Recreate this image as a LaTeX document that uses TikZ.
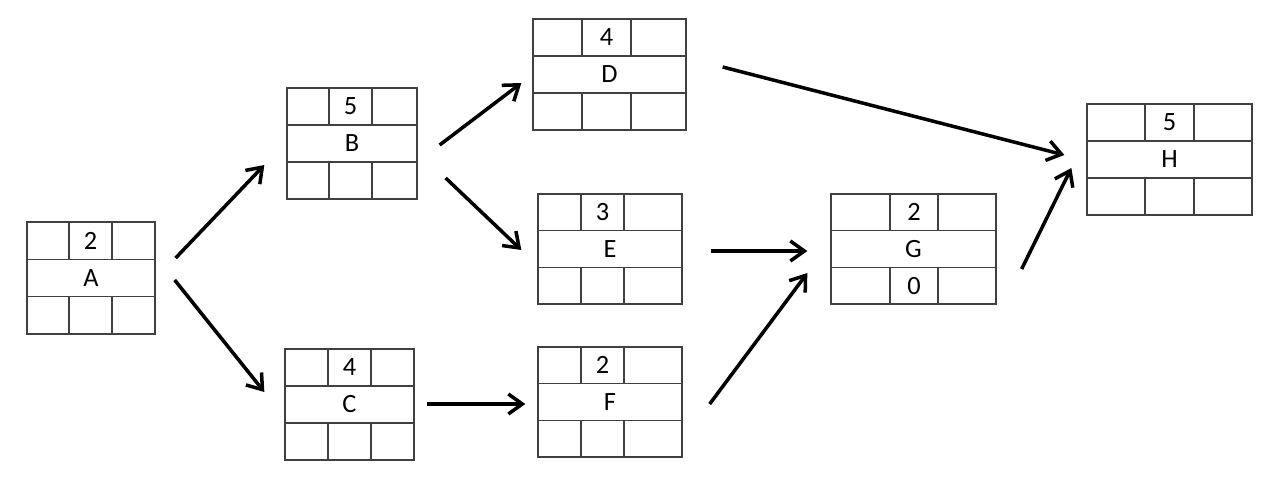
\documentclass[tikz,border=0pt]{standalone}
\usepackage{fontspec}
\setmainfont{Carlito}
\usetikzlibrary{arrows.meta, calc}

\tikzset{
  cell/.style={draw=black!75, line width=0.75pt},
  frame/.style={cell, rectangle, inner sep=0pt},
  arr/.style={-{Straight Barb[length=0.28cm, width=0.4cm]}, line width=2pt},
}

% [bottom entry]{name}{left}{col 1}{col 2}{right}{top}{bottom}{duration}
\newcommand{\actbox}[9][]{%
  \node[frame, minimum width={(#6-#3)*0.02cm}, minimum height={(#8-#7)*0.02cm}] (#2) at ({(#3+#6)/2},{(#7+#8)/2}) {#2};
  \draw[cell] (#3,{#7+(#8-#7)/3}) -- (#6,{#7+(#8-#7)/3})
              (#3,{#7+2*(#8-#7)/3}) -- (#6,{#7+2*(#8-#7)/3});
  \foreach \cx in {#4,#5}
    \draw[cell] (\cx,#7) -- (\cx,{#7+(#8-#7)/3}) (\cx,{#7+2*(#8-#7)/3}) -- (\cx,#8);
  \node at ({(#4+#5)/2},{#7+(#8-#7)/6}) {#9};
  \node at ({(#4+#5)/2},{#8-(#8-#7)/6}) {#1};
}

\begin{document}
\begin{tikzpicture}[x=0.02cm, y=-0.02cm, font=\fontsize{15}{18}\selectfont]
        \useasboundingbox (0,0) rectangle (1270,487);

        \actbox{A}{27}{69}{112}{155}{222}{334}{2}
        \actbox{B}{287}{329}{372}{417}{88}{199}{5}
        \actbox{C}{285}{328}{371}{414}{349}{460}{4}
        \actbox{D}{533}{582}{631}{686}{19}{130}{4}
        \actbox{E}{538}{581}{624}{682}{194}{304}{3}
        \actbox{F}{538}{581}{624}{682}{347}{457}{2}
        \actbox[0]{G}{831}{890}{938}{996}{194}{304}{2}
        \actbox{H}{1087}{1145}{1194}{1252}{104}{215}{5}

        \draw[arr] ($(A.east)+(20,-20)$) -- ($(B.west)+(-22,21.5)$);
        \draw[arr] ($(A.east)+(19,2)$) -- ($(C.west)+(-20,-12.5)$);
        \draw[arr] ($(B.east)+(22,1.5)$) -- ($(D.west)+(-11,8.5)$);
        \draw[arr] ($(B.east)+(28,34.5)$) -- ($(E.west)+(-16,1)$);
        \draw[arr] ($(C.east)+(12,-0.5)$) -- ($(F.west)+(-12,2)$);
        \draw[arr] ($(E.east)+(28,2)$) -- ($(G.west)+(-23,2)$);
        \draw[arr] ($(F.east)+(27,2)$) -- ($(G.west)+(-23,24)$);
        \draw[arr] ($(D.east)+(36,-7.5)$) -- ($(H.west)+(-22,-4.5)$);
        \draw[arr] ($(G.east)+(25,20)$) -- ($(H.west)+(-15,8.5)$);
\end{tikzpicture}
\end{document}
